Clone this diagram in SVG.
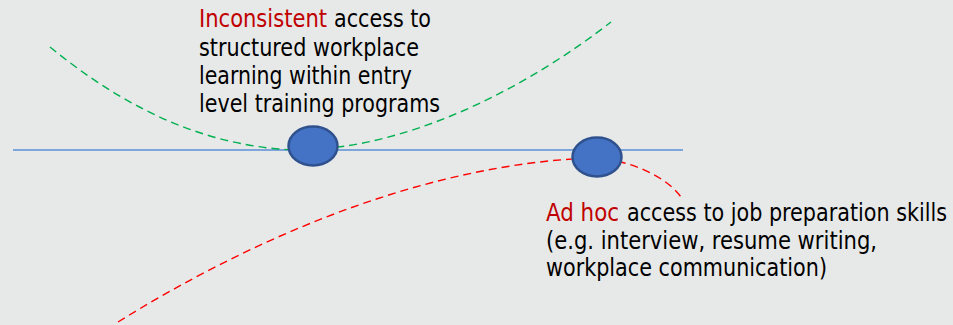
<svg xmlns="http://www.w3.org/2000/svg" width="953" height="325" viewBox="0 0 953 325">
  <style>
    .t { font-family: "DejaVu Sans Condensed", "DejaVu Sans", "Liberation Sans", sans-serif; font-size: 24px; fill: #000; }
    .r { fill: #c00000; }
    .node { fill: #4472c4; stroke: #2f528f; stroke-width: 2.5; }
    .axis { stroke: #5b8fd6; stroke-width: 1.4; fill: none; }
    .green { stroke: #00b050; stroke-width: 1.4; fill: none; stroke-dasharray: 8 5; }
    .red { stroke: #ff0000; stroke-width: 1.4; fill: none; stroke-dasharray: 8 5; }
  </style>
  <rect width="953" height="325" fill="#e7e9e8"/>
  <g id="connectors">
    <line class="axis" x1="13" y1="150" x2="683" y2="150"/>
    <path class="green" d="M50,47 C115,100 195,146 295,150 C410,150 530,85 611,22"/>
    <path class="red" d="M118,322 C250,240 420,165 590,158 C625,158 665,175 681,197"/>
  </g>
  <g id="node-left">
    <ellipse class="node" cx="313" cy="146" rx="24.5" ry="19.5"/>
  </g>
  <g id="node-right">
    <ellipse class="node" cx="597" cy="157" rx="24.5" ry="19.5"/>
  </g>
  <g id="label-top">
    <text class="t r" x="199" y="27" textLength="128" lengthAdjust="spacingAndGlyphs">Inconsistent</text>
    <text class="t" x="334" y="27" textLength="97" lengthAdjust="spacingAndGlyphs">access to</text>
    <text class="t" x="199" y="55.5" textLength="220" lengthAdjust="spacingAndGlyphs">structured workplace</text>
    <text class="t" x="199" y="84" textLength="213" lengthAdjust="spacingAndGlyphs">learning within entry</text>
    <text class="t" x="199" y="112" textLength="241" lengthAdjust="spacingAndGlyphs">level training programs</text>
  </g>
  <g id="label-bottom">
    <text class="t r" x="546" y="221" textLength="73" lengthAdjust="spacingAndGlyphs">Ad hoc</text>
    <text class="t" transform="translate(627,221) scale(1,1.143)" x="0" y="0" style="font-size:21px" textLength="320" lengthAdjust="spacingAndGlyphs">access to job preparation skills</text>
    <text class="t" x="546" y="248.5" textLength="331" lengthAdjust="spacingAndGlyphs">(e.g. interview, resume writing,</text>
    <text class="t" x="546" y="276" textLength="281" lengthAdjust="spacingAndGlyphs">workplace communication)</text>
  </g>
</svg>
